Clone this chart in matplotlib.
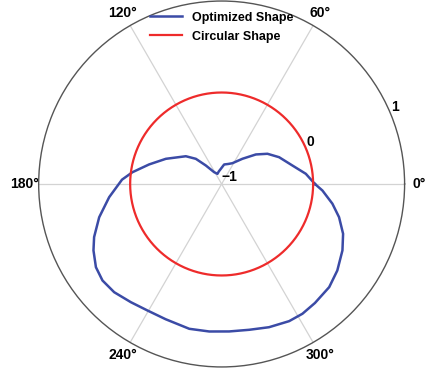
import numpy as np
import matplotlib
matplotlib.use("Agg")
import matplotlib.pyplot as plt

plt.rcParams['font.family'] = ['Liberation Sans', 'DejaVu Sans']
plt.rcParams['font.weight'] = 'bold'

# Optimized shape: angle (deg) and radial value
opt_theta_deg = [0, 6.9, 14.6, 25.0, 33.4, 40.8, 50.5, 62.6, 72, 82.7, 93, 103,
                 112.4, 122.4, 130.5, 135.7, 142.2, 155.7, 164.9, 172.5, 177.5,
                 186.7, 195.2, 202.6, 207.4, 213.5, 219.0, 225.2, 232.5, 239.6,
                 247.5, 257.4, 265.2, 272.9, 280.7, 288.3, 296.2, 301.9, 308.1,
                 316.2, 323.2, 331.2, 337.7, 344.2, 349.9, 356.3, 360]
opt_r = [0.02, -0.073, -0.200, -0.307, -0.400, -0.506, -0.643, -0.744, -0.77,
         -0.785, -0.834, -0.86, -0.880, -0.847, -0.734, -0.606, -0.505, -0.331,
         -0.179, -0.016, 0.09, 0.238, 0.387, 0.510, 0.578, 0.648, 0.676, 0.667,
         0.629, 0.603, 0.60, 0.622, 0.618, 0.614, 0.622, 0.649, 0.671, 0.671,
         0.653, 0.629, 0.579, 0.507, 0.435, 0.334, 0.230, 0.104, 0.02]

# Circular shape: constant radius
circ_r_value = 0.0

r_ticks = [-1, 0, 1]
theta_ticks = [0, 60, 120, 180, 240, 300]

fig = plt.figure(figsize=(4.25, 3.72), dpi=100)
ax = fig.add_axes([0.091, 0.0134, 0.861, 0.984], projection='polar')

th = np.deg2rad(opt_theta_deg)
ax.plot(th, opt_r, color='#3B4BA6', lw=1.8, label='Optimized Shape',
        solid_joinstyle='round')
tc = np.linspace(0, 2 * np.pi, 361)
ax.plot(tc, np.full_like(tc, circ_r_value), color='#EE2B2B', lw=1.6,
        label='Circular Shape')

ax.set_ylim(-1, 1)
ax.set_yticks(r_ticks)
ax.set_yticklabels([str(v).replace('-', '\u2212') for v in r_ticks],
                   fontsize=10, fontweight='bold')
ax.set_rlabel_position(22.5)
ax.set_xticks(np.deg2rad(theta_ticks))
ax.set_xticklabels([f'{t}\u00b0' for t in theta_ticks], fontsize=10,
                   fontweight='bold')
ax.tick_params(axis='x', pad=0)
ax.grid(True, color='#d3d3d3', lw=0.9)
ax.yaxis.grid(False)
ax.spines['polar'].set_color('#555555')
ax.spines['polar'].set_linewidth(1.0)

leg = ax.legend(loc='upper center', bbox_to_anchor=(0.5, 1.0), frameon=False,
                fontsize=9, handlelength=2.6, labelspacing=0.55,
                borderaxespad=0.45)
for t in leg.get_texts():
    t.set_fontweight('bold')

fig.savefig('out.png', dpi=100)
